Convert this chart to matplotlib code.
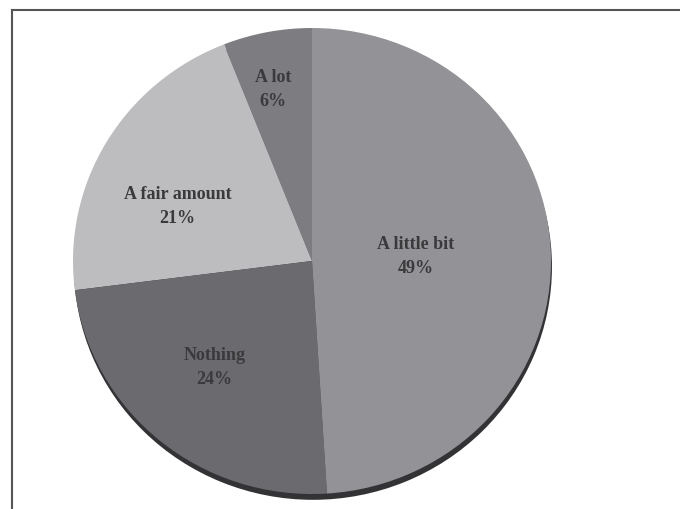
import matplotlib
matplotlib.use("Agg")
import matplotlib.pyplot as plt
from matplotlib.transforms import offset_copy
import numpy as np

categories = ["A lot", "A fair amount", "Nothing", "A little bit"]
values = [6, 21, 24, 49]
colors = ["#7d7d81", "#bdbdc0", "#6b6b6f", "#939397"]
label_radius = [0.77, 0.615, 0.60, 0.435]
label_angle_shift = [1.4, 6.7, -3.2, 2.7]

fig = plt.figure(figsize=(6.8, 5.1), dpi=100)
ax = fig.add_axes([0, 0, 1, 1])

# 3D edge / shadow underneath
ax.pie([1], colors=["#333335"], startangle=90, radius=1.0,
       center=(0.004, -0.025), wedgeprops=dict(linewidth=0), frame=True)

wedges, _ = ax.pie(values, colors=colors, startangle=90, counterclock=True,
                   radius=1.0, wedgeprops=dict(linewidth=0), frame=True)
ax.set_xlim(-312 / 239, (680 - 312) / 239)
ax.set_ylim(-248 / 233, 262 / 233)
ax.set_aspect("auto")
ax.axis("off")

tr = offset_copy(ax.transData, fig=fig, x=0, y=-2.5, units="dots")
for w, cat, v, r, s in zip(wedges, categories, values, label_radius, label_angle_shift):
    mid = np.deg2rad((w.theta1 + w.theta2) / 2 + s)
    x, y = r * np.cos(mid), r * np.sin(mid)
    ax.text(x, y, f"{cat}\n{v}%", ha="center", va="center", transform=tr,
            fontsize=13, fontweight="bold", family="Liberation Serif",
            color="#3a3a3c", linespacing=1.55)

# figure border (top and left visible)
fig.add_artist(plt.Line2D([12 / 680, 12 / 680], [0, 1 - 11 / 510],
                          transform=fig.transFigure, color="#555555", lw=1.5))
fig.add_artist(plt.Line2D([12 / 680, 1], [1 - 11 / 510, 1 - 11 / 510],
                          transform=fig.transFigure, color="#555555", lw=1.5))

fig.savefig("out.png", dpi=100)
